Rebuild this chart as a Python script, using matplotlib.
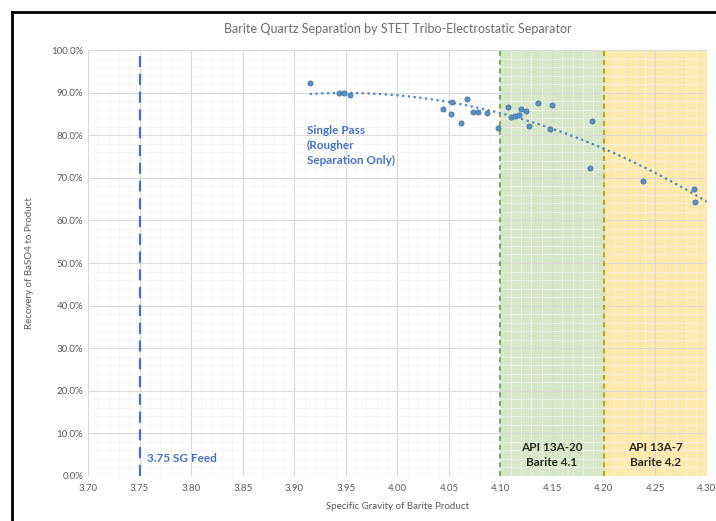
import numpy as np
import matplotlib.pyplot as plt
from matplotlib.ticker import MultipleLocator, FuncFormatter

# ===========================
# DATA
# ===========================
sg = [3.915, 3.943, 3.948, 3.954, 4.044, 4.052, 4.053, 4.062, 4.068,
      4.073, 4.078, 4.087, 4.098, 4.107, 4.110, 4.114, 4.118, 4.120,
      4.125, 4.128, 4.136, 4.148, 4.150, 4.187, 4.189, 4.238, 4.288, 4.289]
recovery = [92.3, 89.8, 89.9, 89.4, 86.1, 85.0, 87.9, 82.9, 88.4,
            85.4, 85.4, 85.3, 81.7, 86.7, 84.2, 84.4, 84.7, 86.1,
            85.7, 82.2, 87.6, 81.4, 87.0, 72.4, 83.4, 69.3, 67.3, 64.4]

feed_sg = 3.75
spec_bands = [(4.10, 4.20), (4.20, 4.30)]
band_colors = ['#d6e8c8', '#fde9aa']
band_line_colors = ['#70ad47', '#c99a06']
band_labels = ['API 13A-20\nBarite 4.1', 'API 13A-7\nBarite 4.2']

x_ticks = [3.70, 3.75, 3.80, 3.85, 3.90, 3.95, 4.00, 4.05, 4.10, 4.15, 4.20, 4.25, 4.30]
y_ticks = [0, 10, 20, 30, 40, 50, 60, 70, 80, 90, 100]

font = ['Lato', 'DejaVu Sans']
grey = '#595959'
blue_txt = '#4472c4'

# ===========================
# PLOT
# ===========================
fig = plt.figure(figsize=(7.16, 5.21), dpi=100)
ax = fig.add_axes([0.123, 0.0864, 0.864, 0.8176])

# outer frame (only left / top visible in the crop)
fig.add_artist(plt.Line2D([12 / 716, 12 / 716], [0, 1 - 12 / 521], color='black', lw=2.0,
                          transform=fig.transFigure))
fig.add_artist(plt.Line2D([12 / 716, 1], [1 - 12 / 521, 1 - 12 / 521], color='black', lw=2.0,
                          transform=fig.transFigure))

for (x0, x1), c in zip(spec_bands, band_colors):
    ax.axvspan(x0, x1, color=c, zorder=0, lw=0)

ax.set_xlim(3.70, 4.30)
ax.set_ylim(0, 100)
ax.set_xticks(x_ticks)
ax.set_yticks(y_ticks)
ax.xaxis.set_minor_locator(MultipleLocator(0.01))
ax.yaxis.set_minor_locator(MultipleLocator(2))
ax.grid(which='major', color='#d9d9d9', lw=0.8, zorder=1)
ax.grid(which='minor', color='#f3f3f3', lw=0.5, zorder=1)
ax.set_axisbelow(True)
for s in ax.spines.values():
    s.set_visible(False)
ax.tick_params(which='both', length=0, colors=grey, labelsize=7)
ax.tick_params(axis='x', pad=6)
ax.yaxis.set_major_formatter(FuncFormatter(lambda v, p: f'{v:.1f}%'))
ax.xaxis.set_major_formatter(FuncFormatter(lambda v, p: f'{v:.2f}'))
for lab in ax.get_xticklabels() + ax.get_yticklabels():
    lab.set_family(font)

# vertical reference lines
ax.axvline(feed_sg, color=blue_txt, ls=(0, (5, 3)), lw=1.6, zorder=3)
for (x0, x1), c in zip(spec_bands, band_line_colors):
    ax.axvline(x0, color=c, ls=(0, (2.5, 2)), lw=1.4, zorder=3)

# data and quadratic trendline
ax.scatter(sg, recovery, s=14, color='#5b8fc7', edgecolor='#41719c', lw=0.5, zorder=5)
coef = np.polyfit(sg, recovery, 2)
xt = np.linspace(min(sg), 4.30, 100)
ax.plot(xt, np.polyval(coef, xt), color='#4a86c5', ls=(0, (1, 1.6)), lw=1.6, zorder=4)

# annotations
ax.text(3.757, 4.0, '3.75 SG Feed', color=blue_txt, fontsize=8.5, family=font,
        fontweight='bold', ha='left', va='center')
ax.text(3.912, 82.5, 'Single Pass\n(Rougher\nSeparation Only)', color=blue_txt,
        fontsize=8.5, family=font, fontweight='bold', ha='left', va='top', linespacing=1.45)
for (x0, x1), t in zip(spec_bands, band_labels):
    ax.text((x0 + x1) / 2, 5.0, t, color='#2b2b1e', fontsize=8.5, family=font,
            fontweight='bold', ha='center', va='center', linespacing=1.45)

ax.set_xlabel('Specific Gravity of Barite Product', fontsize=7, color=grey,
              family=font, labelpad=6)
ax.set_ylabel('Recovery of BaSO4 to Product', fontsize=7, color=grey,
              family=font, labelpad=12)
ax.set_title('Barite Quartz Separation by STET Tribo-Electrostatic Separator',
             fontsize=9, color='#6b6b6b', family=font, pad=12)

fig.savefig('out.png', dpi=100)
